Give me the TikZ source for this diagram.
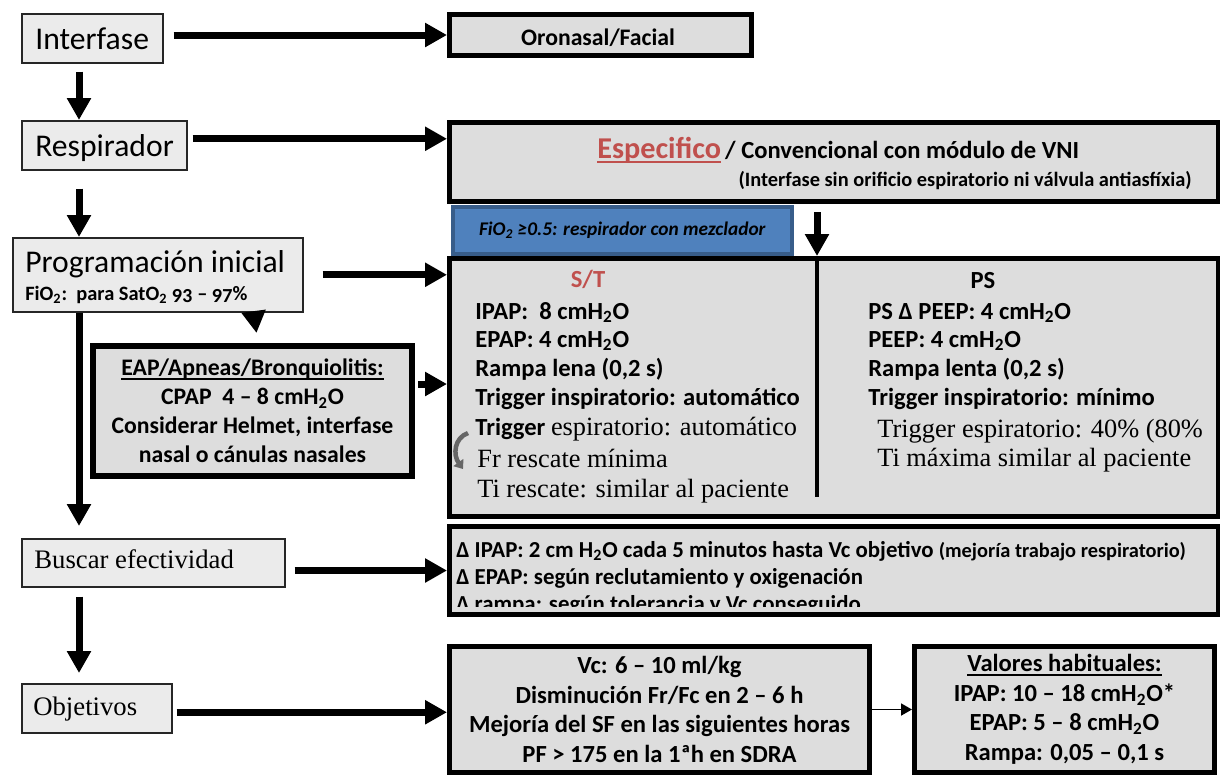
\documentclass[tikz,border=0pt]{standalone}
\usepackage{fontspec}
\setmainfont{Carlito}
\newfontfamily\timesfam{Liberation Serif}
\usetikzlibrary{arrows.meta,calc}
\definecolor{boxgray}{HTML}{DDDDDD}
\definecolor{lightbox}{HTML}{EBEBEB}
\definecolor{accent}{HTML}{C0504D}
\definecolor{bluefill}{HTML}{4F81BD}
\definecolor{blueedge}{HTML}{385D8A}
\newcommand{\fsz}[2]{\fontsize{#1}{#2}\selectfont}
\newcommand{\bodyb}{\fsz{14}{17}\bfseries}
\newcommand{\serifr}{\timesfam\mdseries\fsz{15}{18}}
% underline drawn just below the baseline, crossed by descenders
\newcommand{\ulin}[1]{\setbox0\hbox{#1}\rlap{\rule[-0.17em]{\wd0}{0.085em}}\box0}
\begin{document}
\begin{tikzpicture}[x=0.2mm,y=-0.2mm,
  heavy/.style={draw=black, line width=1mm, fill=boxgray, inner sep=0pt},
  leftbox/.style={draw=black!85, line width=0.3mm, fill=lightbox, inner sep=0pt},
  bluebox/.style={draw=blueedge, line width=0.7mm, fill=bluefill, inner sep=0pt},
  corner/.style n args={4}{at={(#1,#2)}, anchor=north west,
    minimum width={#3*0.2mm}, minimum height={#4*0.2mm}},
  txt/.style={inner sep=0pt, anchor=base west},
  flow/.style={line width=1.4mm, -{Triangle[length=4.4mm,width=4.6mm]}},
  thinflow/.style={line width=0.35mm, -{Triangle[length=2.2mm,width=2.4mm]}},
]
\fill[white] (0,0) rectangle (1220,774);
\useasboundingbox (0,0) rectangle (1220,774);

% ---- left column: the steps
\node[leftbox, corner={21}{13}{141}{49}] (interfase) {};
\node[leftbox, corner={21}{120}{165}{49}] (respirador) {};
\node[leftbox, corner={12}{237}{290}{74}] (prog) {};
\node[leftbox, corner={21}{538}{263}{48}] (buscar) {};
\node[leftbox, corner={21}{683}{150}{49}] (objetivos) {};

\node[txt, font=\fsz{18}{21}] (interfaseT) at (35,49) {Interfase};
\node[txt, font=\fsz{18}{21}] (respiradorT) at (35,156) {Respirador};
\node[txt, font=\fsz{18}{21}] (progT) at (25,272) {Programación inicial};
\node[txt, font=\fsz{11.6}{13}\bfseries] (progF) at (25,300)
  {FiO\textsubscript{2}:\ \ para SatO\textsubscript{2} {\addfontfeatures{Numbers=OldStyle}93 – 97}\%};
\node[txt, font=\timesfam\fsz{15.2}{17}] (buscarT) at (34,568) {Buscar efectividad};
\node[txt, font=\timesfam\fsz{15.2}{17}] (objetivosT) at (33,715) {Objetivos};

% ---- right column: the settings
\node[heavy, corner={447}{12}{302}{41}] (oronasal) {};
\node[txt, anchor=base, font=\fsz{13.5}{16}\bfseries] (oronasalT) at (598,45) {Oronasal/Facial};
\node[heavy, corner={447}{120}{769}{79}] (especifico) {};
\node[heavy, corner={447}{256}{769}{258}] (vent) {};
\node[bluebox, corner={451}{205}{339}{47}, font=\fsz{11}{13}\bfseries\itshape] (fio2)
  {FiO\textsubscript{2} ≥0.5: respirador con mezclador};
\node[heavy, corner={90}{343}{319}{130}, line width=1.2mm, align=center,
  font=\fsz{13.5}{16.5}\bfseries] (eap)
  {\ulin{EAP/Apneas/Bronquiolitis:}\\CPAP\ \ 4 – 8 cmH\textsubscript{2}O\\
   Considerar Helmet, interfase\\nasal o cánulas nasales};
\node[heavy, corner={447}{524}{769}{88}] (ajustes) {};
\node[heavy, corner={447}{644}{420}{126}, align=center, font=\fsz{14}{16.8}\bfseries] (metas)
  {Vc: 6 – 10 ml/kg\\Disminución Fr/Fc en 2 – 6 h\\Mejoría del SF en las siguientes horas\\
   PF > 175 en la 1ªh en SDRA};
\node[heavy, corner={912}{644}{300}{126}, align=center, font=\fsz{14}{16.8}\bfseries] (valores)
  {\ulin{Valores habituales:}\\IPAP: 10 – 18 cmH\textsubscript{2}O*\\
   EPAP: 5 – 8 cmH\textsubscript{2}O\\Rampa: 0,05 – 0,1 s};

% ventilator type
\node[txt] (espT) at (597,158)
  {{\fsz{17.2}{21}\bfseries\color{accent}\ulin{Especifico}} {\fsz{14}{17}\bfseries / Convencional con módulo de VNI}};
\node[txt, anchor=base east, font=\fsz{11.6}{13}\bfseries] (espN) at (1192,186)
  {(Interfase sin orificio espiratorio ni válvula antiasfíxia)};

% S/T mode
\node[txt, anchor=base, font=\bodyb, text=accent] (stH) at (588,287) {S/T};
\node[txt, font=\bodyb] (st1) at (475,319) {IPAP:\ \ 8 cmH\textsubscript{2}O};
\node[txt, font=\bodyb] (st2) at (475,347) {EPAP: 4 cmH\textsubscript{2}O};
\node[txt, font=\bodyb] (st3) at (475,376) {Rampa lena (0,2 s)};
\node[txt, font=\bodyb] (st4) at (475,405) {Trigger inspiratorio: automático};
\node[txt, font=\bodyb] (st5) at (475,435) {Trigger {\serifr espiratorio: automático}};
\node[txt, font=\serifr] (st6) at (477,467) {Fr rescate mínima};
\node[txt, font=\serifr] (st7) at (477,497) {Ti rescate: similar al paciente};
\draw[line width=0.9mm, draw=black!60, -{Triangle[length=1.6mm,width=2.4mm]}]
  (468,433) .. controls (454,438) and (453,455) .. (463,469);

% PS mode
\node[txt, anchor=base, font=\bodyb] (psH) at (983,288) {PS};
\node[txt, font=\bodyb] (ps1) at (868,319) {PS Δ PEEP: 4 cmH\textsubscript{2}O};
\node[txt, font=\bodyb] (ps2) at (868,347) {PEEP: 4 cmH\textsubscript{2}O};
\node[txt, font=\bodyb] (ps3) at (868,376) {Rampa lenta (0,2 s)};
\node[txt, font=\bodyb] (ps4) at (868,405) {Trigger inspiratorio: mínimo};
\node[txt, font=\serifr] (ps5) at (877,437) {Trigger espiratorio: 40\% (80\%};
\node[txt, font=\serifr] (ps6) at (877,466) {Ti máxima similar al paciente};

% adjustments (last line cut by the box)
\begin{scope}
  \clip (449,526) rectangle (1214,606);
  \node[txt, font=\fsz{13}{16}\bfseries] (d1) at (456,557)
    {Δ IPAP: 2 cm H\textsubscript{2}O cada 5 minutos hasta Vc objetivo {\fsz{11.6}{13}(mejoría trabajo respiratorio)}};
  \node[txt, font=\fsz{13}{16}\bfseries] (d2) at (456,584) {Δ EPAP: según reclutamiento y oxigenación};
  \node[txt, font=\fsz{13}{16}\bfseries] (d3) at (456,611) {Δ rampa: según tolerancia y Vc conseguido};
\end{scope}

% ---- connectors
\coordinate (col) at (79,0);
\coordinate (divx) at (817,0);
\coordinate (divend) at (817,497);

\draw[flow, shorten <=2mm] (interfase.east |- oronasal.west) -- (oronasal.west);
\draw[flow, shorten <=1.6mm] (interfase.south -| col) -- (respirador.north -| col);
\draw[flow, shorten <=1mm] ([yshift=1.3mm]respirador.east) -- ([yshift=1.3mm]respirador.east -| especifico.west);
\draw[flow, shorten <=3.6mm] (respirador.south -| col) -- (prog.north -| col);
\draw[flow, shorten <=3.8mm] (prog.east) -- (prog.east -| vent.west);
\draw[flow] ($(prog.south)+(96,0)$) -- ($(eap.north)+(4,-10)$);
\draw[flow, shorten <=0.6mm] ([yshift=5.4mm]eap.east) -- ([yshift=5.4mm]eap.east -| vent.west);
\draw[flow, shorten >=2.4mm] (prog.south -| col) -- (buscar.north -| col);
\draw[flow, shorten <=1.8mm] (buscar.east |- ajustes.west) -- (ajustes.west);
\draw[flow, shorten <=1.8mm, shorten >=2mm] (buscar.south -| col) -- (objetivos.north -| col);
\draw[flow, shorten <=0.8mm] ([yshift=-0.8mm]objetivos.east) -- ([yshift=-0.8mm]objetivos.east -| metas.west);
\draw[thinflow] (metas.east) -- (valores.west);
\draw[flow, shorten <=1.6mm] (especifico.south -| divx) -- (vent.north -| divx);
\draw[line width=0.8mm] (vent.north -| divx) -- (divend);
\end{tikzpicture}
\end{document}
